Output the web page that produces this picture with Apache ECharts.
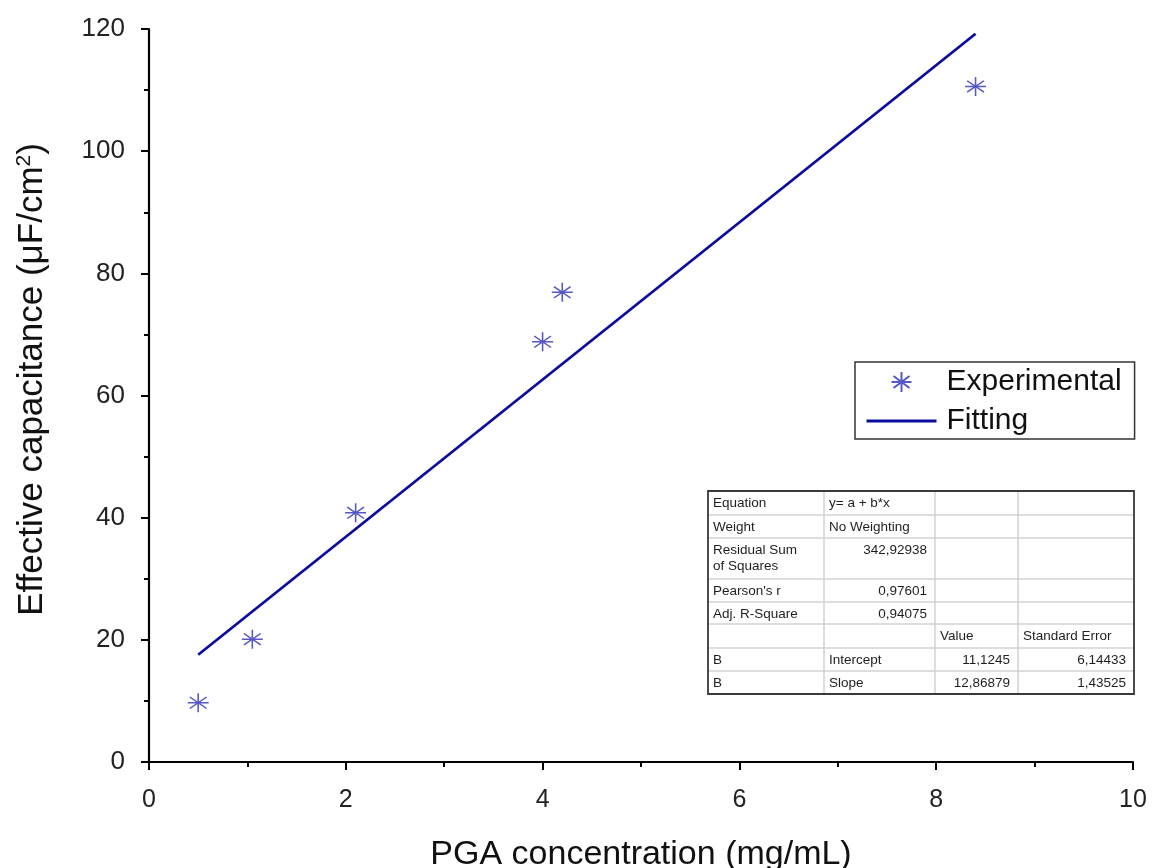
<!DOCTYPE html>
<html>
<head>
<meta charset="utf-8">
<script src="https://cdn.jsdelivr.net/npm/echarts@6/dist/echarts.min.js"></script>
<style>
  html, body { margin: 0; padding: 0; background: #fff; }
  #chart { width: 1152px; height: 868px; }
</style>
</head>
<body>
<div id="chart"></div>
<script>
// Measured capacitance vs. PGA concentration
const concentration = [0.5, 1.05, 2.1, 4.0, 4.2, 8.4];
const capacitance = [9.7, 20.1, 40.8, 68.8, 76.9, 110.6];

// Linear fit y = a + b*x, drawn between the first and last concentration
const fitX = [0.5, 8.4];
const fitY = [17.56, 119.22];

// Fit report table
const tableRows = [
  ['Equation', 'y= a + b*x', '', ''],
  ['Weight', 'No Weighting', '', ''],
  ['Residual Sum\nof Squares', '342,92938', '', ''],
  ["Pearson's r", '0,97601', '', ''],
  ['Adj. R-Square', '0,94075', '', ''],
  ['', '', 'Value', 'Standard Error'],
  ['B', 'Intercept', '11,1245', '6,14433'],
  ['B', 'Slope', '12,86879', '1,43525']
];

const FONT = '"Liberation Sans", Arial, sans-serif';
const markerColor = '#2d2db8';
const lineColor = '#0b0b9c';
const starPath = 'path://M0,-10L0,10M-10,0L10,0M-8,-6L8,6M-8,6L8,-6';

// table geometry (pixels)
const colX = [708, 824, 935, 1018, 1134];
const rowY = [491, 515, 538, 579, 602, 624, 648, 671, 694];

function buildTable() {
  const els = [];
  // inner grid lines
  for (let i = 1; i < rowY.length - 1; i++) {
    els.push({ type: 'line', shape: { x1: colX[0], y1: rowY[i], x2: colX[4], y2: rowY[i] },
      style: { stroke: '#d2d2d2', lineWidth: 1.5 } });
  }
  for (let j = 1; j < colX.length - 1; j++) {
    els.push({ type: 'line', shape: { x1: colX[j], y1: rowY[0], x2: colX[j], y2: rowY[rowY.length - 1] },
      style: { stroke: '#d2d2d2', lineWidth: 1.5 } });
  }
  // outer border
  els.push({ type: 'rect', shape: { x: colX[0], y: rowY[0], width: colX[4] - colX[0], height: rowY[rowY.length - 1] - rowY[0] },
    style: { fill: 'none', stroke: '#3a3a3a', lineWidth: 1.8 } });
  tableRows.forEach((row, i) => {
    row.forEach((cell, j) => {
      if (!cell) return;
      const numeric = /^[\d,]+$/.test(cell);
      els.push({
        type: 'text',
        x: numeric ? colX[j + 1] - 8 : colX[j] + 5,
        y: rowY[i] + 4,
        style: {
          text: cell, fill: '#1e1e1e', font: '13.5px ' + FONT,
          align: numeric ? 'right' : 'left', verticalAlign: 'top', lineHeight: 16
        }
      });
    });
  });
  return els;
}

const chart = echarts.init(document.getElementById('chart'));
chart.setOption({
  backgroundColor: '#ffffff',
  animation: false,
  grid: { left: 149, right: 19, top: 29, bottom: 106, containLabel: false, outerBoundsMode: 'none' },
  legend: {
    orient: 'vertical',
    left: 855, top: 362,
    padding: [5, 13, 3, 10],
    itemGap: 9,
    itemWidth: 70, itemHeight: 20,
    borderColor: '#333', borderWidth: 1.5, borderRadius: 0,
    textStyle: { fontFamily: FONT, fontSize: 30, color: '#111', padding: [0, 0, 0, 5] },
    data: [
      { name: 'Experimental', icon: starPath },
      // the fit entry shows only its line, its symbol is hidden
      { name: 'Fitting', itemStyle: { opacity: 0 }, lineStyle: { width: 3, color: lineColor } }
    ]
  },
  xAxis: {
    type: 'value', min: 0, max: 10, interval: 2,
    name: 'PGA concentration (mg/mL)', nameLocation: 'middle', nameGap: 76,
    nameTextStyle: { fontFamily: FONT, fontSize: 34, color: '#111' },
    axisLine: { show: true, onZero: false, lineStyle: { color: '#000', width: 2.2 } },
    axisTick: { show: true, inside: false, length: 8, lineStyle: { color: '#000', width: 2 } },
    minorTick: { show: true, splitNumber: 2, length: 5, lineStyle: { color: '#000', width: 2 } },
    axisLabel: { fontFamily: FONT, fontSize: 25, color: '#222', margin: 26 },
    splitLine: { show: false }
  },
  yAxis: {
    type: 'value', min: 0, max: 120, interval: 20,
    name: 'Effective capacitance (μF/cm{sup|2})', nameLocation: 'middle', nameGap: 98,
    nameTextStyle: {
      fontFamily: FONT, fontSize: 35, color: '#111', padding: [0, 0, 0, 32],
      rich: { sup: { fontFamily: FONT, fontSize: 21, color: '#111', padding: [0, 0, 16, 0] } }
    },
    axisLine: { show: true, onZero: false, lineStyle: { color: '#000', width: 2.2 } },
    axisTick: { show: true, inside: false, length: 8, lineStyle: { color: '#000', width: 2 } },
    minorTick: { show: true, splitNumber: 2, length: 5, lineStyle: { color: '#000', width: 2 } },
    axisLabel: { fontFamily: FONT, fontSize: 26, color: '#222', margin: 24 },
    splitLine: { show: false }
  },
  series: [
    {
      name: 'Experimental',
      type: 'scatter',
      data: concentration.map((x, i) => [x, capacitance[i]]),
      symbol: starPath,
      symbolSize: [21, 19],
      itemStyle: { color: 'rgba(0,0,0,0)', borderColor: markerColor, borderWidth: 1.5 },
      z: 3
    },
    {
      name: 'Fitting',
      type: 'line',
      data: fitX.map((x, i) => [x, fitY[i]]),
      showSymbol: false,
      symbol: 'none',
      lineStyle: { color: lineColor, width: 2.8 },
      itemStyle: { color: lineColor },
      z: 2
    }
  ],
  graphic: buildTable()
});
</script>
</body>
</html>
